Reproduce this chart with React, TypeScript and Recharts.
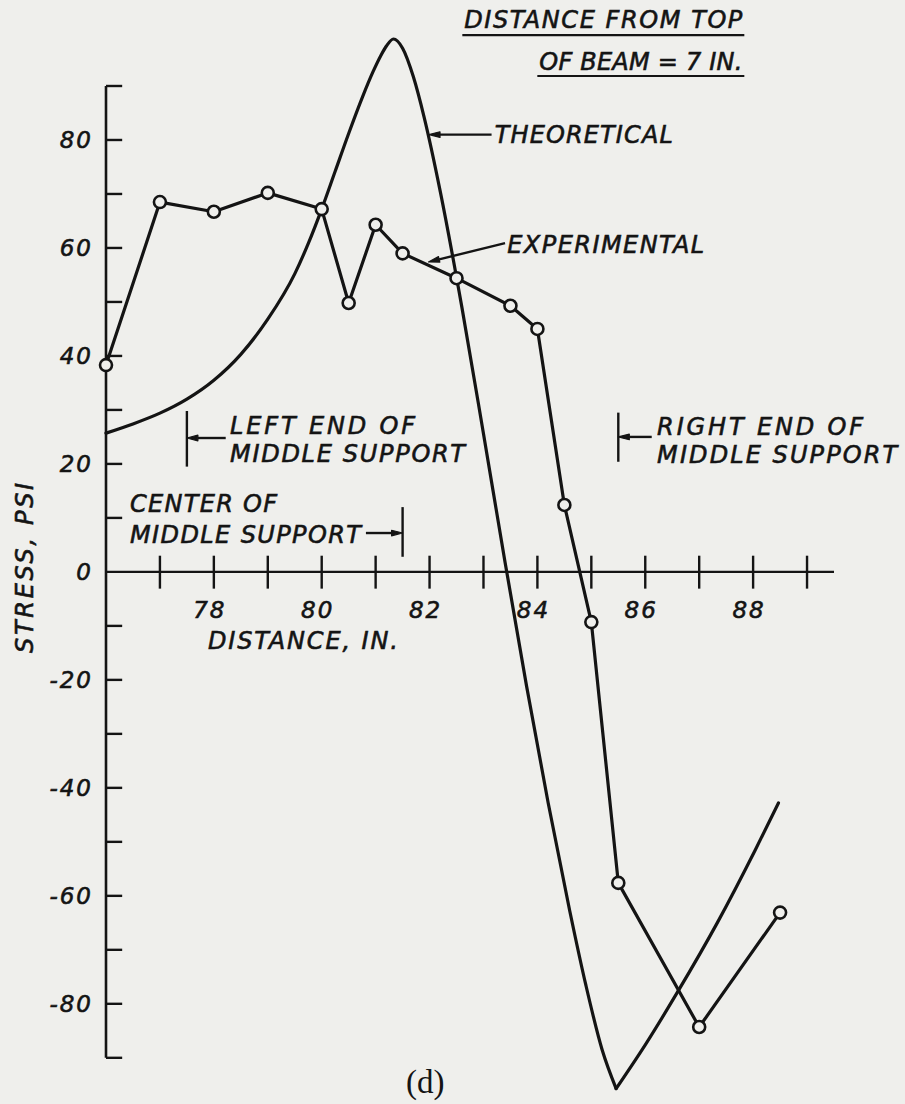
import React from 'react';
import {
  ComposedChart,
  Line,
  XAxis,
  YAxis,
  ReferenceLine,
  ReferenceDot,
} from 'recharts';

const INK = '#141414';
const PAPER = '#efefec';
const LETTER_FONT = '"DejaVu Sans", "Liberation Sans", sans-serif';
const CAPTION_FONT = '"Liberation Serif", "DejaVu Serif", serif';

// Theoretical stress along the beam: distance (in.) and stress (psi)
const theoreticalDistance = [
  76.0, 76.5, 77.0, 77.5, 78.0, 78.5, 79.0, 79.5, 79.75, 80.0, 80.25, 80.5,
  80.75, 80.95, 81.1, 81.2, 81.33, 81.5, 81.7, 81.9, 82.2, 82.6, 83.0, 83.4,
  83.8, 84.2, 84.6, 84.9, 85.2, 85.46, 86.0, 86.6, 87.33, 88.04, 88.47,
];
const theoreticalStress = [
  25.7, 27.4, 29.4, 32.0, 35.5, 40.3, 46.8, 55.2, 60.8, 67.2, 74.2, 81.2,
  87.8, 92.6, 95.7, 97.4, 98.7, 97.0, 91.7, 84.2, 70.4, 49.0, 25.6, 1.8,
  -21.2, -42.8, -62.8, -76.6, -88.5, -95.7, -87.6, -77.8, -65.1, -51.5, -42.8,
];

// Measured gauge readings
const experimentalDistance = [
  76, 77, 78, 79, 80, 80.5, 81, 81.5, 82.5, 83.5, 84, 84.5, 85, 85.5, 87, 88.5,
];
const experimentalStress = [
  38.3, 68.5, 66.7, 70.2, 67.2, 49.8, 64.3, 59.0, 54.4, 49.3, 45.0, 12.4, -9.3,
  -57.6, -84.3, -63.1,
];

// Axis graduations
const stressLabels = [-80, -60, -40, -20, 0, 20, 40, 60, 80];
const stressMarks = [-90, -80, -70, -60, -50, -40, -30, -20, -10, 10, 20, 30, 40, 50, 60, 70, 80, 90];
const distanceMarks = [77, 78, 79, 80, 81, 82, 83, 84, 85, 86, 87, 88, 89];
const distanceLabels = [78, 80, 82, 84, 86, 88];

// Support locations (in.)
const supportLeftEnd = 77.5;
const supportCenter = 81.5;
const supportRightEnd = 85.5;

const theoreticalRows = theoreticalDistance.map((d, i) => ({
  distance: d,
  stress: theoreticalStress[i],
}));
const experimentalRows = experimentalDistance.map((d, i) => ({
  distance: d,
  stress: experimentalStress[i],
}));

// The theoretical curve has a sharp trough; it is drawn as two smooth
// branches that meet at the minimum so the corner stays crisp.
const troughIndex = theoreticalStress.indexOf(Math.min(...theoreticalStress));
const theoreticalFalling = theoreticalRows.slice(0, troughIndex + 1);
const theoreticalRising = theoreticalRows.slice(troughIndex);

type Note = {
  text: string;
  at: [number, number];
  width: number;
  anchor?: 'start' | 'middle' | 'end';
  underline?: number;
  rotate?: boolean;
};

// Lettering placed in chart units (distance, stress)
const notes: Note[] = [
  { text: 'DISTANCE FROM TOP', at: [87.8, 100.7], width: 278, anchor: 'end', underline: 7 },
  { text: 'OF BEAM = 7 IN.', at: [87.8, 92.96], width: 203, anchor: 'end', underline: 6 },
  { text: 'THEORETICAL', at: [83.21, 79.4], width: 178 },
  { text: 'EXPERIMENTAL', at: [83.44, 59.07], width: 197 },
  { text: 'LEFT END OF', at: [78.3, 25.55], width: 185 },
  { text: 'MIDDLE SUPPORT', at: [78.3, 20.4], width: 235 },
  { text: 'CENTER OF', at: [76.445, 11.1], width: 147 },
  { text: 'MIDDLE SUPPORT', at: [76.445, 5.37], width: 231 },
  { text: 'RIGHT END OF', at: [86.22, 25.4], width: 206 },
  { text: 'MIDDLE SUPPORT', at: [86.22, 20.2], width: 240 },
  { text: 'DISTANCE, IN.', at: [77.89, -14.35], width: 190 },
  { text: 'STRESS, PSI', at: [74.48, 0.74], width: 170, anchor: 'middle', rotate: true },
];

// Leader arrows: tip first, tail second
const leaders: [number, number, number, number][] = [
  [81.99, 81.0, 83.15, 81.0],
  [81.98, 57.4, 83.4, 60.9],
  [supportLeftEnd, 24.8, 78.22, 24.8],
  [supportCenter, 7.2, 80.82, 7.2],
  [supportRightEnd, 25.0, 86.12, 25.0],
];

// Short vertical bars marking the support
const supportBars: [number, number, number][] = [
  [supportLeftEnd, 19.5, 29.8],
  [supportCenter, 2.8, 12.0],
  [supportRightEnd, 20.4, 29.5],
];

const letterStyle = {
  fontFamily: LETTER_FONT,
  fontStyle: 'italic' as const,
  fill: INK,
  stroke: INK,
  strokeWidth: 0.6,
};

const noteShape = (note: Note) => (p: any) => {
  const { cx, cy } = p;
  const anchor = note.anchor || 'start';
  if (note.rotate) {
    return (
      <text
        x={cx}
        y={cy + 8.5}
        transform={`rotate(-90, ${cx}, ${cy})`}
        textAnchor="middle"
        fontSize={24}
        textLength={note.width}
        lengthAdjust="spacing"
        {...letterStyle}
      >
        {note.text}
      </text>
    );
  }
  const left = anchor === 'end' ? cx - note.width : anchor === 'middle' ? cx - note.width / 2 : cx;
  return (
    <g>
      <text
        x={cx}
        y={cy}
        textAnchor={anchor}
        fontSize={24}
        textLength={note.width}
        lengthAdjust="spacing"
        {...letterStyle}
      >
        {note.text}
      </text>
      {note.underline ? (
        <line
          x1={left - 2}
          x2={left + note.width + 2}
          y1={cy + note.underline}
          y2={cy + note.underline}
          stroke={INK}
          strokeWidth={2.2}
        />
      ) : null}
    </g>
  );
};

const leaderShape = (p: any) => {
  const { x1, y1, x2, y2 } = p;
  const ang = Math.atan2(y1 - y2, x1 - x2);
  const len = 11;
  const half = 2.8;
  const bx = x1 - Math.cos(ang) * len;
  const by = y1 - Math.sin(ang) * len;
  const nx = -Math.sin(ang) * half;
  const ny = Math.cos(ang) * half;
  return (
    <g>
      <line x1={bx} y1={by} x2={x2} y2={y2} stroke={INK} strokeWidth={2.4} />
      <polygon
        points={`${x1},${y1} ${bx + nx},${by + ny} ${bx - nx},${by - ny}`}
        fill={INK}
        stroke={INK}
        strokeWidth={1.2}
        strokeLinejoin="round"
      />
    </g>
  );
};

const distanceLabelShape = (value: number) => (p: any) => (
  <text
    x={p.cx - 4}
    y={p.cy + 46}
    textAnchor="middle"
    fontSize={23}
    letterSpacing={2}
    {...letterStyle}
  >
    {value}
  </text>
);

const StressTick = (props: any) => {
  const { x, y, payload } = props;
  return (
    <text
      x={x}
      y={y + 8}
      textAnchor="end"
      fontSize={23}
      letterSpacing={2}
      {...letterStyle}
    >
      {payload.value}
    </text>
  );
};

const captionShape = (p: any) => (
  <text
    x={p.cx}
    y={p.cy}
    textAnchor="middle"
    fontFamily={CAPTION_FONT}
    fontSize={33}
    fill={INK}
  >
    (d)
  </text>
);

const curveStyle = {
  stroke: INK,
  strokeWidth: 3.2,
  strokeLinejoin: 'round' as const,
  strokeLinecap: 'round' as const,
};

export default function App() {
  return (
    <div
      style={{
        position: 'absolute',
        left: 0,
        top: 0,
        width: 905,
        height: 1104,
        background: PAPER,
        overflow: 'hidden',
      }}
    >
      <ComposedChart
        width={905}
        height={1104}
        margin={{ top: 32, right: 71, bottom: 3, left: 56 }}
      >
        <XAxis type="number" dataKey="distance" domain={[76, 89.5]} hide />
        <YAxis
          type="number"
          domain={[-98, 100]}
          ticks={stressLabels}
          interval={0}
          width={50}
          tickSize={0}
          tickMargin={13}
          axisLine={false}
          tickLine={false}
          tick={<StressTick />}
        />

        {/* stress axis with bracket ends */}
        <ReferenceLine
          segment={[{ x: 76, y: -90 }, { x: 76, y: 90 }]}
          stroke={INK}
          strokeWidth={2.6}
          ifOverflow="visible"
        />
        {stressMarks.map((v) => (
          <ReferenceLine
            key={`ym${v}`}
            segment={[{ x: 76, y: v }, { x: 76.3, y: v }]}
            stroke={INK}
            strokeWidth={2.4}
            ifOverflow="visible"
          />
        ))}

        {/* distance axis drawn through zero stress */}
        <ReferenceLine y={0} stroke={INK} strokeWidth={2.4} ifOverflow="visible" />
        {distanceMarks.map((t) => (
          <ReferenceLine
            key={`xm${t}`}
            segment={[{ x: t, y: -3.1 }, { x: t, y: 3 }]}
            stroke={INK}
            strokeWidth={2.4}
            ifOverflow="visible"
          />
        ))}
        {distanceLabels.map((t) => (
          <ReferenceDot
            key={`xl${t}`}
            x={t}
            y={0}
            r={0}
            ifOverflow="visible"
            shape={distanceLabelShape(t)}
          />
        ))}

        {supportBars.map(([x, y1, y2], i) => (
          <ReferenceLine
            key={`bar${i}`}
            segment={[{ x, y: y1 }, { x, y: y2 }]}
            stroke={INK}
            strokeWidth={2.4}
            ifOverflow="visible"
          />
        ))}
        {leaders.map(([tx, ty, ex, ey], i) => (
          <ReferenceLine
            key={`ld${i}`}
            segment={[{ x: tx, y: ty }, { x: ex, y: ey }]}
            ifOverflow="visible"
            shape={leaderShape}
          />
        ))}

        <Line
          data={theoreticalFalling}
          dataKey="stress"
          type="monotone"
          {...curveStyle}
          dot={false}
          activeDot={false}
          isAnimationActive={false}
        />
        <Line
          data={theoreticalRising}
          dataKey="stress"
          type="monotone"
          {...curveStyle}
          dot={false}
          activeDot={false}
          isAnimationActive={false}
        />
        <Line
          data={experimentalRows}
          dataKey="stress"
          type="linear"
          {...curveStyle}
          dot={{ r: 6, fill: PAPER, stroke: INK, strokeWidth: 2.6 }}
          activeDot={false}
          isAnimationActive={false}
        />

        {notes.map((n, i) => (
          <ReferenceDot
            key={`note${i}`}
            x={n.at[0]}
            y={n.at[1]}
            r={0}
            ifOverflow="visible"
            shape={noteShape(n)}
          />
        ))}
        <ReferenceDot x={81.92} y={-96.6} r={0} ifOverflow="visible" shape={captionShape} />
      </ComposedChart>
    </div>
  );
}
